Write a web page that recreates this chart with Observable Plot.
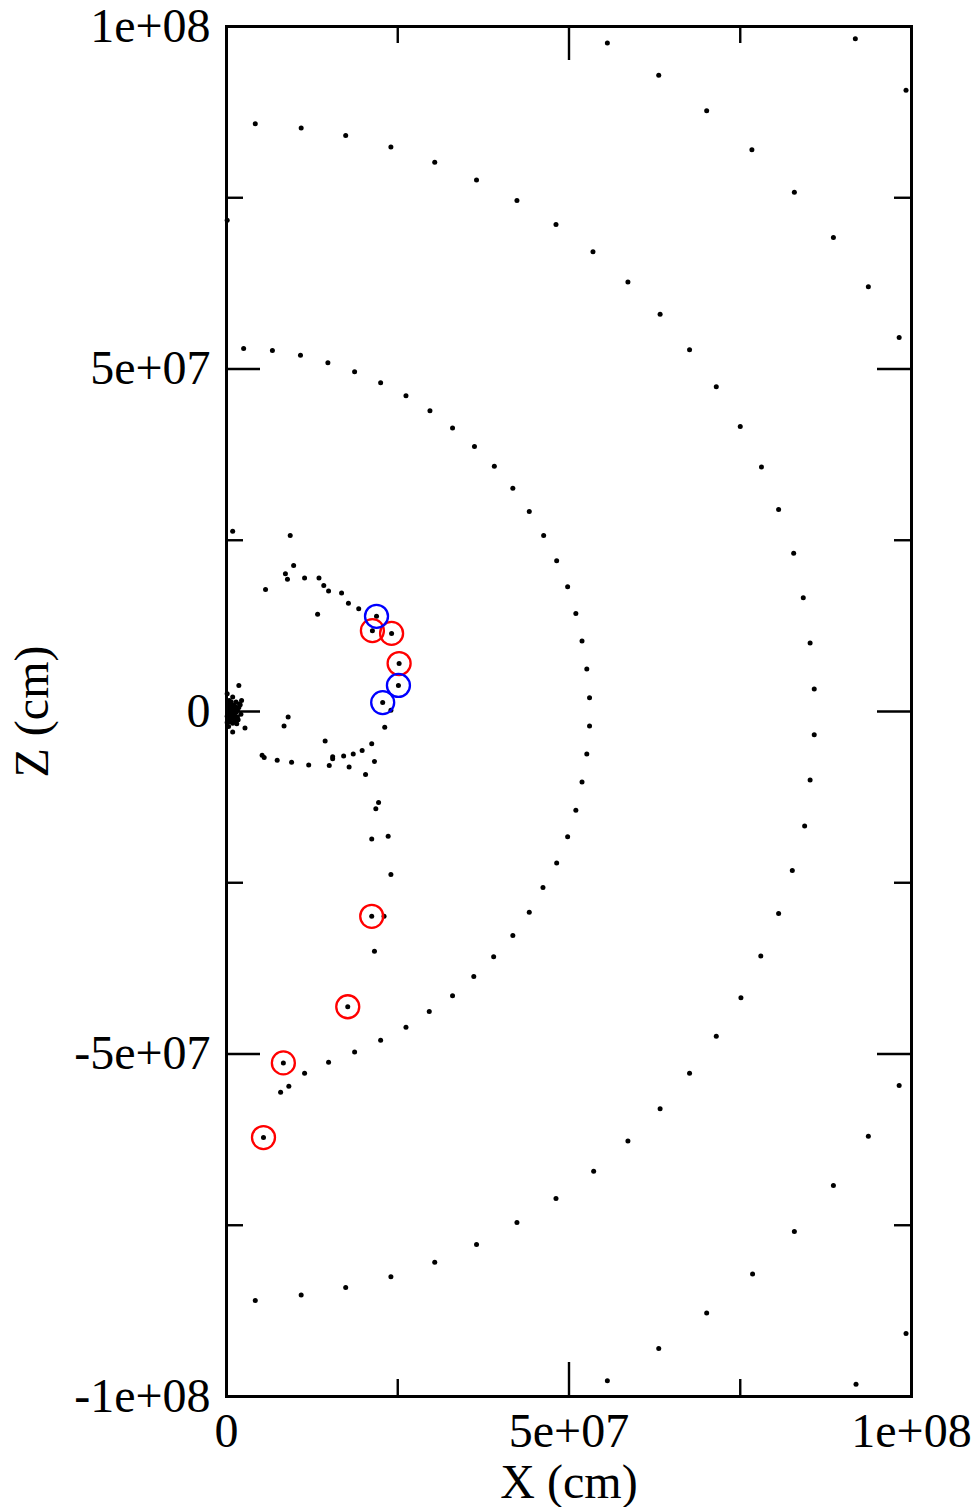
<!DOCTYPE html>
<html>
<head>
<meta charset="utf-8">
<script src="https://cdn.jsdelivr.net/npm/d3@7"></script>
<script src="https://cdn.jsdelivr.net/npm/@observablehq/plot@0.6"></script>
<style>
  html, body { margin: 0; padding: 0; background: #fff; }
  #chart svg { display: block; }
</style>
</head>
<body>
<div id="chart"></div>
<script>
// Particle positions in the X–Z plane, stored as [x, z] in units of 10^6 cm.
const UNIT = 1e6;

// outermost shell (only its corners fall inside the window)
const shellD = [[91.8, 98.2], [99.2, 90.7], [99.2, -90.8], [91.9, -98.2]];

// third shell
const shellC = [
  [55.6, 97.6], [63.1, 92.9], [70.1, 87.7], [76.7, 82.0], [82.9, 75.8], [88.6, 69.2], [93.7, 62.0], [98.2, 54.6],
  [98.2, -54.6], [93.7, -62.0], [88.6, -69.2], [82.9, -75.9], [76.8, -82.1], [70.1, -87.8], [63.1, -93.0], [55.6, -97.7]
];

// second shell
const shellB = [
  [4.2, 85.8], [10.9, 85.2], [17.4, 84.1], [24.0, 82.4], [30.4, 80.2], [36.5, 77.6], [42.4, 74.6], [48.1, 71.1],
  [53.5, 67.1], [58.6, 62.7], [63.3, 58.0], [67.6, 52.8], [71.5, 47.4], [75.0, 41.6], [78.1, 35.7], [80.6, 29.5],
  [82.8, 23.1], [84.2, 16.6], [85.2, 10.0], [85.8, 3.3], [85.8, -3.4], [85.2, -10.0], [84.4, -16.7], [82.6, -23.2],
  [80.6, -29.5], [78.0, -35.7], [75.1, -41.8], [71.5, -47.4], [67.6, -52.8], [63.3, -58.0], [58.6, -62.7], [53.6, -67.1],
  [48.1, -71.1], [42.4, -74.6], [36.5, -77.8], [30.4, -80.4], [24.0, -82.5], [17.4, -84.1], [10.9, -85.2], [4.2, -86.0]
];

// first shell
const shellA = [
  [2.5, 53.0], [6.7, 52.7], [10.8, 52.0], [14.8, 50.9], [18.7, 49.6], [22.5, 48.0], [26.2, 46.1], [29.7, 43.9],
  [33.0, 41.4], [36.2, 38.7], [39.1, 35.8], [41.8, 32.6], [44.2, 29.2], [46.3, 25.7], [48.2, 22.0], [49.8, 18.2],
  [51.0, 14.3], [51.9, 10.3], [52.6, 6.2], [53.0, 2.0], [53.0, -2.1], [52.6, -6.2], [51.9, -10.3], [51.0, -14.4],
  [49.8, -18.3], [48.2, -22.1], [46.2, -25.7], [44.2, -29.3], [41.8, -32.7], [39.0, -35.8], [36.1, -38.7], [33.0, -41.5],
  [29.6, -43.8], [26.2, -46.1], [22.5, -48.0], [18.7, -49.7], [14.9, -51.2], [11.4, -52.8], [9.1, -54.7], [7.9, -55.6]
];

// inner structure around the core
const inner = [
  [0.1, 71.7], [0.9, 26.3], [9.3, 25.7], [9.8, 21.3], [8.6, 20.1], [8.9, 19.3], [11.4, 19.5], [13.5, 19.5],
  [14.2, 18.4], [14.9, 17.6], [5.7, 17.8], [16.8, 17.3], [17.8, 15.8], [19.3, 15.0], [13.3, 14.2],
  [24.0, 0.2], [23.1, -2.3], [21.2, -4.7], [21.6, -7.3], [20.3, -9.2],
  [9.0, -0.8], [8.4, -2.1], [14.4, -4.3], [5.2, -6.4], [5.5, -6.7], [7.4, -7.1], [9.5, -7.4], [12.0, -7.8],
  [15.0, -7.9], [15.5, -6.6], [15.5, -6.9], [17.1, -6.5], [18.5, -6.2], [19.8, -5.7], [17.9, -8.1],
  [23.0, -29.9], [21.6, -35.0], [24.0, -23.8], [21.2, -18.6], [23.6, -18.2], [21.8, -14.2], [22.2, -13.3]
];

// central clump near the origin
const core = [
  [1.8, 3.8], [0.1, 2.6], [0.9, 2.1], [1.9, 1.1], [2.0, 1.0], [0.8, -0.3], [1.7, -1.2], [0.3, 0.4],
  [0.6, -0.1], [0.1, -0.7], [1.0, 0.1], [1.3, 0.7], [0.4, -1.2], [0.1, -1.6], [1.2, -0.6], [1.5, -1.8],
  [2.7, -2.4], [0.9, -3.0], [0.5, 1.0], [1.4, 1.4], [0.2, 0.0], [0.7, 0.6], [1.6, 0.2], [1.1, -1.1],
  [0.5, -0.8], [2.1, -0.4], [0.3, -2.2], [1.8, 0.6], [0.9, -1.7], [1.4, -0.1], [0.4, 1.6], [2.2, 1.6],
  [0.6, 0.3], [1.1, 0.9], [0.3, -0.4], [0.8, -0.9], [1.2, 0.4], [0.5, -1.5], [1.6, -0.8], [0.2, 1.2],
  [1.0, -0.4], [0.7, 1.4], [1.3, -1.4], [0.4, 0.8]
];

// highlighted particles
const redMarked = [
  [5.4, -62.2], [8.3, -51.3], [17.7, -43.1], [21.2, -29.9], [21.3, 11.8], [24.1, 11.4], [25.2, 7.0]
];
const blueMarked = [[21.9, 13.9], [25.1, 3.8], [22.8, 1.3]];

// axis ticks and their labels
const xMajor = [0, 5e7, 1e8];
const xMinor = [2.5e7, 7.5e7];
const yMajor = [-1e8, -5e7, 0, 5e7, 1e8];
const yMinor = [-7.5e7, -2.5e7, 2.5e7, 7.5e7];
const xTickLabels = ["0", "5e+07", "1e+08"];
const yTickLabels = ["-1e+08", "-5e+07", "0", "5e+07", "1e+08"];
const xTitle = "X (cm)";
const zTitle = "Z (cm)";

const rows = (pairs) => pairs.map(([x, z]) => ({x: x * UNIT, z: z * UNIT}));
const allDots = [shellD, shellC, shellB, shellA, inner, core, redMarked, blueMarked].flatMap(rows);

const W = 979, H = 1507;
const M = {top: 26, right: 68, bottom: 111, left: 226};
const innerW = W - M.left - M.right;
const innerH = H - M.top - M.bottom;
const MAJOR = 34, MINOR = 17;
const FONT = 48;

// inward tick marks on all four sides
const ticksX = (values, len) => [
  Plot.tickX(values, {x: d => d, insetTop: innerH - len, stroke: "black", strokeWidth: 2.4}),
  Plot.tickX(values, {x: d => d, insetBottom: innerH - len, stroke: "black", strokeWidth: 2.4})
];
const ticksY = (values, len) => [
  Plot.tickY(values, {y: d => d, insetRight: innerW - len, stroke: "black", strokeWidth: 2.4}),
  Plot.tickY(values, {y: d => d, insetLeft: innerW - len, stroke: "black", strokeWidth: 2.4})
];

const chart = Plot.plot({
  width: W,
  height: H,
  marginTop: M.top,
  marginRight: M.right,
  marginBottom: M.bottom,
  marginLeft: M.left,
  style: {fontFamily: "'Liberation Serif', 'Times New Roman', serif", background: "white", color: "black"},
  x: {domain: [0, 1e8]},
  y: {domain: [-1e8, 1e8]},
  marks: [
    ...ticksX(xMajor, MAJOR),
    ...ticksX(xMinor, MINOR),
    ...ticksY(yMajor, MAJOR),
    ...ticksY(yMinor, MINOR),
    Plot.frame({stroke: "black", strokeWidth: 3}),
    Plot.axisX(xMajor, {
      anchor: "bottom", tickSize: 0, tickPadding: 16, fontSize: FONT, label: null,
      tickFormat: (d, i) => xTickLabels[i]
    }),
    Plot.axisY(yMajor, {
      anchor: "left", tickSize: 0, tickPadding: 16, fontSize: FONT, label: null,
      tickFormat: (d, i) => yTickLabels[i]
    }),
    Plot.text([xTitle], {
      frameAnchor: "bottom", lineAnchor: "middle", textAnchor: "middle", dy: 86,
      text: d => d, fontSize: FONT, fill: "black"
    }),
    Plot.text([zTitle], {
      frameAnchor: "left", lineAnchor: "middle", textAnchor: "middle", dx: -194, rotate: -90,
      text: d => d, fontSize: FONT, fill: "black"
    }),
    Plot.dot(allDots, {x: "x", y: "z", r: 2.5, fill: "black", stroke: null}),
    Plot.dot(rows(redMarked), {x: "x", y: "z", r: 11.5, stroke: "#ff0000", strokeWidth: 2.3, fill: "none"}),
    Plot.dot(rows(blueMarked), {x: "x", y: "z", r: 11.5, stroke: "#0000ff", strokeWidth: 2.3, fill: "none"})
  ]
});

document.getElementById("chart").appendChild(chart);
</script>
</body>
</html>
